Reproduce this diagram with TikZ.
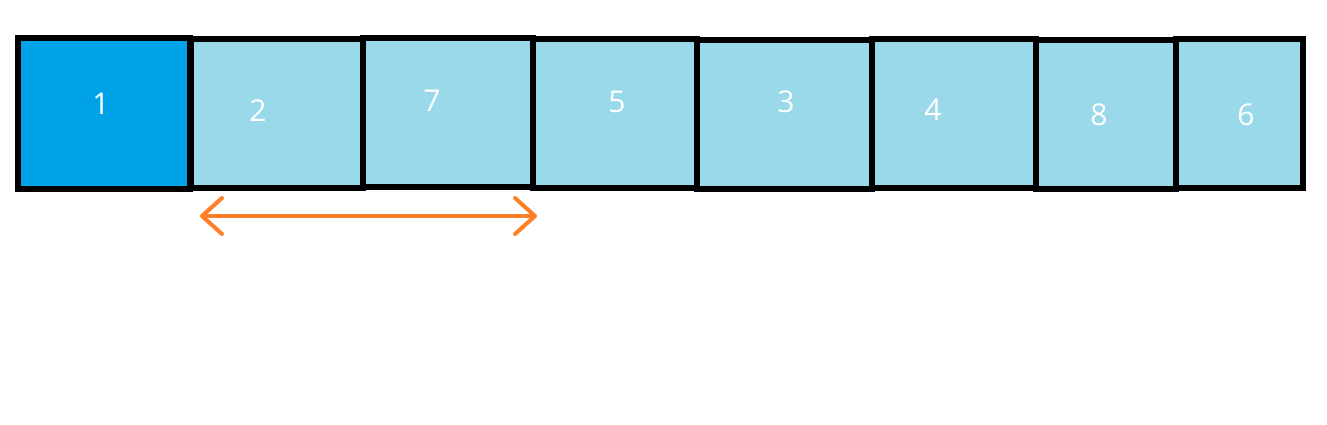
\documentclass[tikz,border=0pt]{standalone}
\usepackage{fontspec}
\setmainfont{Open Sans}
\usetikzlibrary{arrows.meta}
\definecolor{dblue}{HTML}{00A2E8}
\definecolor{lblue}{HTML}{99D9EA}
\definecolor{orng}{HTML}{FF7F27}
\tikzset{
  cell/.style={draw=black, line width=6pt, fill=lblue, minimum height=149pt, inner sep=0pt, outer sep=0pt},
  num/.style={text=white, font=\fontsize{30}{30}\selectfont, inner sep=0pt},
  swaparrow/.style={draw=orng, line width=4pt, line cap=round,
    {Straight Barb[length=20pt,width=36pt,line width=4pt,round]}-{Straight Barb[length=20pt,width=36pt,line width=4pt,round]}}
}
\begin{document}
\begin{tikzpicture}[x=1pt,y=-1pt]
\useasboundingbox (0,0) rectangle (1327,424);
\fill[white] (0,0) rectangle (1327,424);
% boxes (center x, width)
\node[cell, minimum width=172pt] (b2) at (276.5,113.5) {};
\node[cell, minimum width=170pt] (b7) at (448,112) {};
\node[cell, minimum width=164pt] (b5) at (615,113) {};
\node[cell, minimum width=175pt] (b3) at (784.5,114) {};
\node[cell, minimum width=164pt] (b4) at (954,113) {};
\node[cell, minimum width=140pt] (b8) at (1106,114) {};
\node[cell, minimum width=127pt] (b6) at (1239.5,113) {};
\node[cell, fill=dblue, minimum width=172pt, minimum height=151pt] (b1) at (104,113.5) {};
% numbers
\node[num] (n1) at (101,104) {1};
\node[num] (n2) at (258,111) {2};
\node[num] (n7) at (432,101) {7};
\node[num] (n5) at (617,102) {5};
\node[num] (n3) at (786,102) {3};
\node[num] (n4) at (933,110) {4};
\node[num] (n8) at (1099,115) {8};
\node[num] (n6) at (1246,115) {6};
% arrow
\coordinate (aL) at (200,216);
\coordinate (aR) at (537,216);
\draw[swaparrow] (aL) -- (aR);
\end{tikzpicture}
\end{document}
